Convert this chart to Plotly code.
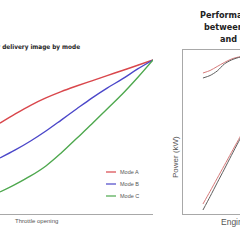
import plotly.graph_objects as go

# ---------------- data ----------------
throttle = [0, 10, 20, 30, 40, 50, 60, 70, 80, 90, 100]
mode_a = [59.0, 65.0, 70.6, 75.4, 79.5, 83.1, 86.5, 89.9, 93.2, 96.6, 100]
mode_b = [36.4, 41.6, 47.4, 53.9, 61.0, 68.2, 75.3, 81.8, 87.7, 94.2, 100]
mode_c = [14.3, 19.2, 24.7, 31.2, 39.6, 49.0, 58.4, 68.2, 77.9, 88.6, 100]
mode_names = ["Mode A", "Mode B", "Mode C"]

engine_rpm = [1700, 1950, 2200, 2450, 2700, 2950, 3200]
upper_new = [141, 143.5, 147.5, 151.5, 155, 157, 158]
upper_old = [136, 138.5, 143, 150, 154, 156.5, 158]
power_new = [10, 22.7, 35.7, 48.6, 61.6, 74.5, 87.3]
power_old = [4, 17.4, 31.2, 44.8, 58.7, 72.3, 86]

# ---------------- style ----------------
W = H = 240
def px(x):
    return x / W
def py(y):
    return 1 - y / H

mode_colors = ["#d9474c", "#4b47c9", "#4ea84e"]
new_color = "#d77a7a"
old_color = "#5e5e5e"
axis_gray = "#a8a8a8"
text_gray = "#555555"
title_font = "Liberation Sans Narrow, DejaVu Sans Condensed, Liberation Sans, Arial"
body_font = "Liberation Sans, Arial, DejaVu Sans"

fig = go.Figure()

for name, vals, col in zip(mode_names, [mode_a, mode_b, mode_c], mode_colors):
    fig.add_trace(go.Scatter(x=throttle, y=vals, mode="lines", name=name,
                             line=dict(color=col, width=1.4, shape="spline", smoothing=1.0),
                             xaxis="x", yaxis="y", showlegend=False))

for vals, col in [(upper_new, new_color), (upper_old, old_color),
                  (power_new, new_color), (power_old, old_color)]:
    fig.add_trace(go.Scatter(x=engine_rpm, y=vals, mode="lines",
                             line=dict(color=col, width=1.0, shape="spline", smoothing=0.8),
                             xaxis="x2", yaxis="y2", showlegend=False))

fig.update_layout(
    width=W, height=H, margin=dict(l=0, r=0, t=0, b=0),
    paper_bgcolor="white", plot_bgcolor="white", showlegend=False,
    xaxis=dict(domain=[0, px(153)], range=[0, 100], showgrid=False, zeroline=False,
               showticklabels=False, ticks="", showline=True, linecolor=axis_gray, linewidth=1),
    yaxis=dict(domain=[py(214), py(50)], range=[0, 106.5], showgrid=False, zeroline=False,
               showticklabels=False, ticks="", showline=False),
    xaxis2=dict(domain=[px(183), 1], range=[1000, 3000], showgrid=False, zeroline=False,
                showticklabels=False, ticks="", showline=True, mirror=True,
                linecolor=axis_gray, linewidth=1, anchor="y2"),
    yaxis2=dict(domain=[py(214), py(50)], range=[0, 164], showgrid=False, zeroline=False,
                showticklabels=False, ticks="", showline=True, linecolor=axis_gray,
                linewidth=1, anchor="x2"),
)

P = dict(xref="paper", yref="paper", showarrow=False)
ann = []
ann.append(dict(text="<b>Power delivery image by mode</b>", x=px(82), y=py(47),
                xanchor="right", yanchor="middle",
                font=dict(family=title_font, size=6.4, color="#222"), **P))
for txt, x0, y0 in [("Performance comparison", 198, 15),
                    ("between engine variants", 202, 27),
                    ("and rated output", 218, 39)]:
    ann.append(dict(text="<b>" + txt + "</b>", x=px(x0), y=py(y0), xanchor="left",
                    yanchor="middle",
                    font=dict(family=title_font, size=9, color="#222"), **P))
ann.append(dict(text="Throttle opening", x=px(13), y=py(221), xanchor="left",
                yanchor="middle",
                font=dict(family=body_font, size=6, color=text_gray), **P))
ann.append(dict(text="Power (kW)", x=px(175), y=py(157), xanchor="center",
                yanchor="middle", textangle=-90,
                font=dict(family=body_font, size=8, color=text_gray), **P))
ann.append(dict(text="Engine speed (rpm)", x=px(219), y=py(222), xanchor="left",
                yanchor="middle",
                font=dict(family=body_font, size=8.5, color=text_gray), **P))

shapes = []
for i, (name, col) in enumerate(zip(mode_names, mode_colors)):
    yy = 172 + 12 * i
    shapes.append(dict(type="line", xref="paper", yref="paper", x0=px(106), x1=px(116),
                       y0=py(yy), y1=py(yy), line=dict(color=col, width=1.2)))
    ann.append(dict(text=name, x=px(118), y=py(yy), xanchor="left", yanchor="middle",
                    font=dict(family=body_font, size=5.5, color=text_gray), **P))

fig.update_layout(annotations=ann, shapes=shapes)
fig.write_html("out.html")
